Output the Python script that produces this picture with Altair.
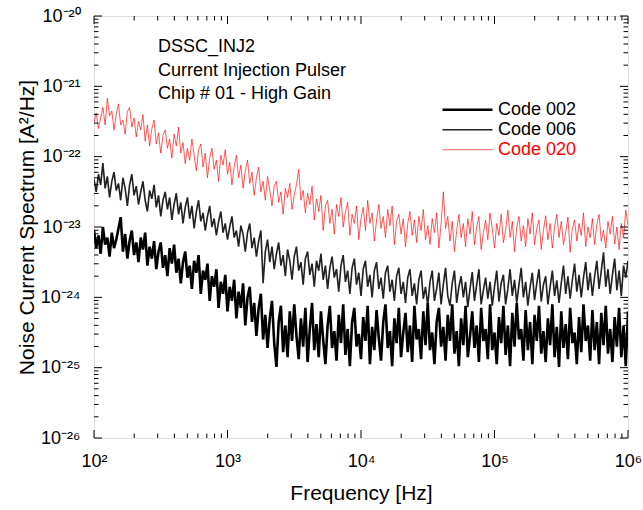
import altair as alt
import pandas as pd

# ---------------- data (log10 of A^2/Hz) ----------------
n_points = 241
freq_hz = [10 ** (2 + i / 60) for i in range(n_points)]

code020_log10 = [
    -21.52, -21.38, -21.60, -21.45, -21.30, -21.55, -21.17, -21.42, -21.35, -21.62,
    -21.40, -21.25, -21.55, -21.48, -21.68, -21.36, -21.30, -21.58, -21.45, -21.72,
    -21.50, -21.62, -21.40, -21.78, -21.55, -21.85, -21.60, -21.48, -21.82, -21.66,
    -21.95, -21.70, -21.62, -21.88, -21.75, -22.02, -21.68, -21.85, -21.58, -21.95,
    -21.80, -22.10, -21.88, -22.05, -21.75, -21.98, -22.20, -21.90, -21.82, -22.15,
    -21.95, -22.30, -22.02, -21.88, -22.18, -22.05, -22.35, -21.98, -22.12, -21.90,
    -22.25, -22.08, -22.40, -22.15, -21.98, -22.30, -22.12, -22.45, -22.20, -22.05,
    -22.38, -22.22, -22.55, -22.30, -22.15, -22.50, -22.35, -22.62, -22.28, -22.48,
    -22.70, -22.42, -22.35, -22.65, -22.50, -22.82, -22.45, -22.58, -22.38, -22.75,
    -22.55, -22.40, -22.18, -22.62, -22.48, -22.80, -22.52, -22.68, -22.42, -22.90,
    -22.60, -22.78, -22.55, -23.05, -22.70, -22.62, -22.95, -22.75, -23.10, -22.68,
    -22.85, -22.58, -23.00, -22.78, -22.65, -23.12, -22.82, -22.95, -22.70, -23.18,
    -22.88, -22.72, -23.05, -22.62, -22.95, -22.80, -23.20, -22.90, -22.68, -23.02,
    -22.85, -23.15, -22.75, -22.98, -22.70, -23.25, -22.92, -22.82, -23.10, -22.88,
    -23.28, -22.95, -22.78, -23.12, -22.90, -23.22, -22.85, -23.05, -22.75, -23.18,
    -22.98, -23.25, -22.88, -23.08, -22.80, -23.30, -22.95, -22.50, -23.02, -22.85,
    -23.20, -22.92, -23.35, -23.05, -22.82, -23.15, -22.95, -23.28, -22.88, -23.10,
    -22.78, -23.25, -23.00, -22.85, -23.32, -23.08, -22.90, -23.18, -22.80, -23.02,
    -23.30, -22.95, -23.12, -22.82, -23.22, -23.05, -22.76, -23.15, -22.92, -23.35,
    -23.00, -22.85, -23.20, -22.98, -23.28, -22.88, -23.10, -22.80, -23.25, -23.02,
    -22.90, -23.32, -23.05, -22.84, -23.18, -22.95, -23.30, -23.00, -22.82, -23.15,
    -22.92, -23.25, -23.08, -22.86, -23.36, -23.02, -22.90, -23.20, -22.95, -23.12,
    -22.80, -23.28, -23.00, -23.15, -22.88, -23.25, -22.96, -22.82, -23.20, -23.05,
    -23.30, -22.92, -23.10, -22.85, -23.24, -23.00, -23.32, -22.95, -23.15, -22.76,
    -22.98,
]

code006_log10 = [
    -22.32, -22.50, -22.25, -22.40, -22.09, -22.45, -22.28, -22.58, -22.35, -22.22,
    -22.48, -22.38, -22.62, -22.30, -22.45, -22.70, -22.40, -22.25, -22.55, -22.42,
    -22.68, -22.50, -22.35, -22.62, -22.78, -22.48, -22.60, -22.40, -22.72, -22.55,
    -22.85, -22.62, -22.50, -22.75, -22.58, -22.90, -22.68, -22.52, -22.82, -22.65,
    -22.95, -22.72, -22.58, -22.88, -22.70, -23.02, -22.78, -22.62, -22.92, -22.80,
    -23.05, -22.85, -22.70, -23.00, -22.88, -23.12, -22.92, -22.78, -23.08, -22.95,
    -23.18, -23.00, -22.85, -23.15, -23.05, -23.28, -22.98, -23.10, -23.35, -23.08,
    -22.95, -23.30, -23.15, -23.42, -23.20, -23.05, -23.80, -23.35, -23.18, -23.50,
    -23.28, -23.60, -23.38, -23.22, -23.55, -23.40, -23.70, -23.32, -23.48, -23.75,
    -23.42, -23.28, -23.62, -23.50, -23.82, -23.45, -23.35, -23.68, -23.52, -23.85,
    -23.48, -23.62, -23.38, -23.75, -23.55, -23.88, -23.58, -23.42, -23.72, -23.60,
    -23.92, -23.55, -23.40, -23.78, -23.62, -23.95, -23.58, -23.45, -23.82, -23.65,
    -23.98, -23.60, -23.48, -23.85, -23.68, -24.00, -23.62, -23.50, -23.88, -23.72,
    -24.02, -23.65, -23.55, -23.92, -23.75, -24.05, -23.70, -23.58, -23.95, -23.78,
    -24.08, -23.72, -23.60, -23.98, -23.80, -24.10, -23.75, -23.62, -24.02, -23.85,
    -24.12, -23.78, -23.62, -24.05, -23.88, -23.65, -24.10, -23.82, -23.58, -23.98,
    -24.12, -23.80, -23.62, -24.08, -23.85, -23.70, -24.00, -23.78, -24.14, -23.88,
    -23.64, -24.05, -23.82, -23.60, -24.10, -23.90, -23.72, -24.02, -23.78, -24.12,
    -23.85, -23.62, -24.06, -23.80, -23.68, -24.10, -23.88, -23.60, -23.98, -23.75,
    -24.08, -23.82, -23.58, -24.00, -23.78, -24.12, -23.85, -23.65, -24.04, -23.80,
    -23.60, -24.06, -23.82, -23.70, -24.10, -23.85, -23.62, -23.98, -23.76, -24.08,
    -23.80, -23.55, -23.95, -23.70, -24.02, -23.75, -23.52, -23.92, -23.68, -24.00,
    -23.72, -23.50, -23.90, -23.65, -23.98, -23.70, -23.48, -23.88, -23.62, -23.36,
    -23.85, -23.60, -23.95, -23.68, -23.45, -23.90, -23.62, -23.98, -23.55, -23.72,
    -23.48,
]

code002_log10 = [
    -23.05, -23.30, -23.12, -23.38, -23.00, -23.25, -23.15, -23.42, -23.08, -23.30,
    -23.18, -23.02, -22.86, -23.35, -23.10, -23.45, -23.20, -23.05, -23.40, -23.22,
    -23.50, -23.15, -23.32, -23.08, -23.55, -23.28, -23.45, -23.20, -23.60, -23.35,
    -23.22, -23.58, -23.40, -23.70, -23.30, -23.52, -23.25, -23.65, -23.45, -23.80,
    -23.50, -23.35, -23.72, -23.55, -23.88, -23.48, -23.65, -23.40, -23.95, -23.62,
    -23.75, -23.52, -24.05, -23.70, -23.85, -23.60, -24.15, -23.78, -23.95, -23.68,
    -24.20, -23.85, -24.05, -23.75, -24.30, -23.92, -24.15, -23.80, -24.40, -24.00,
    -23.85, -24.35, -24.08, -24.55, -24.15, -23.95, -24.60, -24.25, -24.72, -24.30,
    -24.05, -24.65, -24.99, -24.35, -24.12, -24.78, -24.40, -24.85, -24.20, -24.62,
    -24.10, -24.55, -24.88, -24.30, -24.70, -24.15, -24.92, -24.45, -24.08, -24.75,
    -24.38, -24.85, -24.20, -24.60, -24.95, -24.40, -24.12, -24.72, -24.48, -24.90,
    -24.25, -24.65, -24.10, -24.82, -24.45, -24.98, -24.35, -24.15, -24.70, -24.52,
    -24.88, -24.28, -24.62, -24.12, -24.95, -24.42, -24.75, -24.18, -24.58, -24.90,
    -24.35, -24.10, -24.72, -24.48, -24.98, -24.30, -24.65, -24.15, -24.85, -24.50,
    -24.22, -24.78, -24.40, -24.92, -24.12, -24.60, -24.45, -24.88, -24.20, -24.68,
    -24.08, -24.75, -24.50, -24.95, -24.35, -24.15, -24.70, -24.42, -24.90, -24.25,
    -24.62, -24.10, -24.80, -24.48, -24.98, -24.30, -24.68, -24.12, -24.85, -24.55,
    -24.20, -24.72, -24.40, -24.92, -24.15, -24.62, -24.45, -24.88, -24.10, -24.75,
    -24.50, -24.95, -24.28, -24.65, -24.12, -24.82, -24.40, -24.98, -24.22, -24.70,
    -24.08, -24.60, -24.45, -24.90, -24.18, -24.75, -24.35, -24.95, -24.25, -24.62,
    -24.12, -24.80, -24.48, -24.92, -24.30, -24.68, -24.10, -24.85, -24.42, -24.99,
    -24.20, -24.72, -24.38, -24.88, -24.15, -24.65, -24.50, -24.95, -24.28, -24.78,
    -24.10, -24.62, -24.40, -24.90, -24.18, -24.75, -24.35, -24.95, -24.22, -24.68,
    -24.12, -24.80, -24.45, -24.92, -24.28, -24.70, -24.15, -24.85, -24.40, -24.98,
    -24.20,
]

series_names = ["Code 002", "Code 006", "Code 020"]
series_colors = ["#000000", "#222222", "#ff0000"]
series_widths = [2.6, 0.65, 0.7]

x_major = [1e2, 1e3, 1e4, 1e5, 1e6]
x_minor = [k * 10.0 ** e for e in range(2, 6) for k in range(2, 10)]
y_major = [10.0 ** e for e in range(-26, -19)]
y_minor = [k * 10.0 ** e for e in range(-26, -20) for k in range(2, 10)]

annotation_lines = ["DSSC_INJ2", "Current Injection Pulser", "Chip # 01 - High Gain"]

# ---------------- table ----------------
rows = []
for name, vals in [("Code 020", code020_log10), ("Code 006", code006_log10), ("Code 002", code002_log10)]:
    for f, v in zip(freq_hz, vals):
        rows.append({"series": name, "freq": f, "value": 10.0 ** v})
df = pd.DataFrame(rows)

W, H = 534, 422
MAJOR_LEN, MINOR_LEN = 8, 4.5
FONT = "Liberation Sans"
xs = alt.Scale(type="log", domain=[1e2, 1e6], nice=False)
ys = alt.Scale(type="log", domain=[1e-26, 1e-20], nice=False)

lg = "log(datum.value)/LN10"
sup = "['⁰','¹','²','³','⁴','⁵','⁶','⁷','⁸','⁹']"
x_label_expr = f"'10' + {sup}[round({lg})]"
y_label_expr = f"'10⁻²' + {sup}[abs(round({lg})) - 20]"

x_axis = alt.Axis(
    orient="bottom", values=x_major, labelExpr=x_label_expr, ticks=False, tickSize=0,
    domain=False, grid=False, labelFontSize=18, labelFont=FONT, labelColor="black",
    labelPadding=14, title="Frequency [Hz]", titleFontSize=21, titleFont=FONT,
    titleFontWeight="normal", titleColor="black", titlePadding=12, labelFlush=False,
    labelOverlap=False)
y_axis = alt.Axis(
    orient="left", values=y_major, labelExpr=y_label_expr, ticks=False, tickSize=0,
    domain=False, grid=False, labelFontSize=18, labelFont=FONT, labelColor="black",
    labelPadding=14, title="Noise Current Spectrum [A²/Hz]", titleFontSize=21,
    titleFont=FONT, titleFontWeight="normal", titleColor="black", titlePadding=3,
    labelFlush=False, labelOverlap=False)

legend_kw = dict(
    title=None, orient="none", legendX=347, legendY=84,
    symbolType="stroke", symbolSize=2500, labelFontSize=18, labelFont=FONT,
    labelColor=alt.ExprRef(expr="datum.label == 'Code 020' ? '#ff0000' : 'black'"),
    padding=0, rowPadding=0, clipHeight=19.5, labelOffset=4,
)

lines = alt.Chart(df).mark_line(clip=True, strokeJoin="miter").encode(
    x=alt.X("freq:Q", scale=xs, axis=x_axis),
    y=alt.Y("value:Q", scale=ys, axis=y_axis),
    color=alt.Color("series:N", scale=alt.Scale(domain=series_names, range=series_colors),
                    legend=alt.Legend(**legend_kw)),
    strokeWidth=alt.StrokeWidth("series:N", scale=alt.Scale(domain=series_names, range=series_widths),
                                legend=alt.Legend(**legend_kw)),
    detail="series:N",
)


# inward axis ticks drawn as short rules at the tick values
def xrules(values, y_edge, length):
    inner = y_edge - length if y_edge > 0 else y_edge + length
    return alt.Chart(pd.DataFrame({"freq": values})).mark_rule(
        color="black", strokeWidth=1, strokeCap="butt").encode(
        x=alt.X("freq:Q", scale=xs, axis=x_axis),
        y=alt.value(y_edge), y2=alt.value(inner))


def yrules(values, x_edge, length):
    inner = x_edge - length if x_edge > 0 else x_edge + length
    return alt.Chart(pd.DataFrame({"value": values})).mark_rule(
        color="black", strokeWidth=1, strokeCap="butt").encode(
        y=alt.Y("value:Q", scale=ys, axis=y_axis),
        x=alt.value(x_edge), x2=alt.value(inner))


tick_layers = [
    xrules(x_major, H, MAJOR_LEN), xrules(x_minor, H, MINOR_LEN),
    xrules(x_major, 0, MAJOR_LEN), xrules(x_minor, 0, MINOR_LEN),
    yrules(y_major, 0, MAJOR_LEN), yrules(y_minor, 0, MINOR_LEN),
    yrules(y_major, W, MAJOR_LEN), yrules(y_minor, W, MINOR_LEN),
]

chart = alt.layer(lines, *tick_layers).properties(
    width=W, height=H,
    padding={"left": 94, "top": 16, "right": 15, "bottom": 72},
    autosize=alt.AutoSizeParams(type="none"),
    title=alt.TitleParams(
        text=annotation_lines, anchor="start", frame="group", orient="top", offset=0,
        dx=64, dy=96, baseline="top", fontSize=18, fontWeight="normal", lineHeight=23.5,
        color="black", font=FONT),
).configure_view(stroke="black", strokeWidth=1).configure(background="white")

chart.save("out.html", embed_options={"renderer": "svg", "actions": False})
